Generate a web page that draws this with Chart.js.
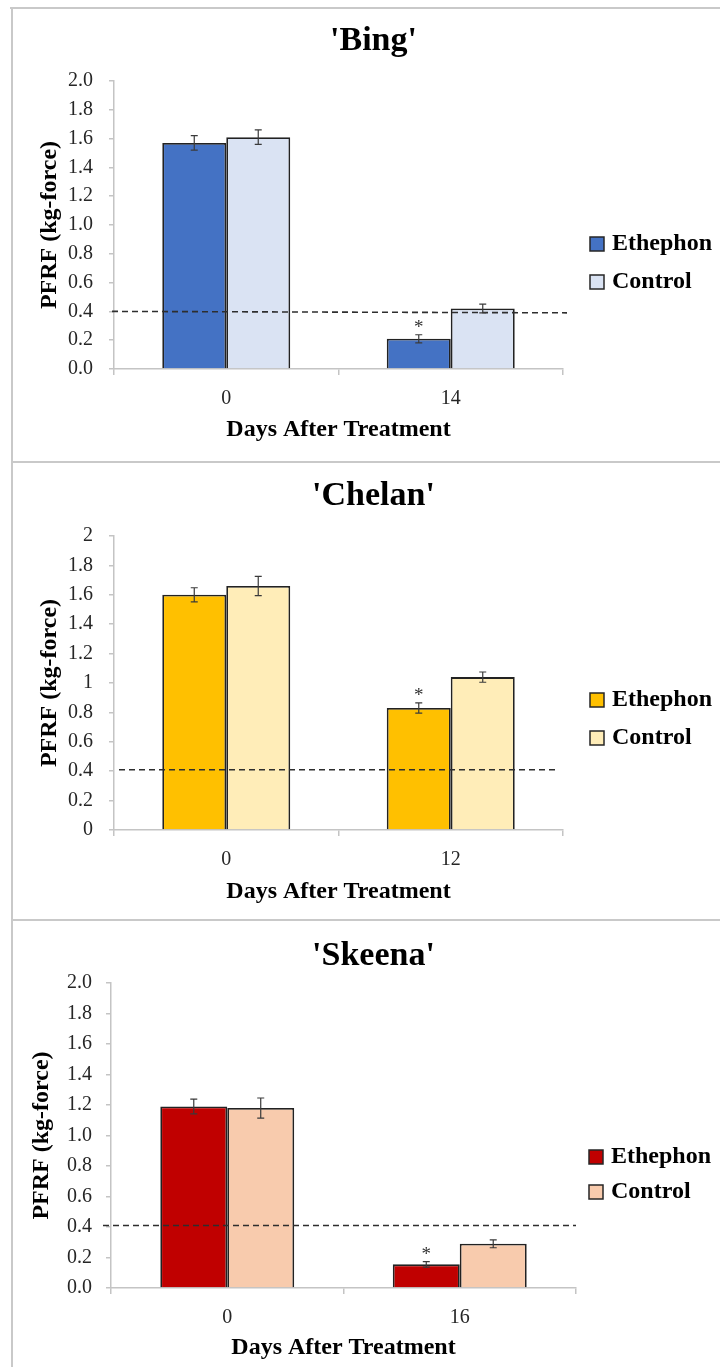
<!DOCTYPE html>
<html><head><meta charset="utf-8">
<script src="https://cdn.jsdelivr.net/npm/chart.js@4/dist/chart.umd.min.js"></script>
<style>
html,body{margin:0;padding:0;background:#fff;}
body{position:relative;width:720px;height:1367px;overflow:hidden;}
.rule{position:absolute;background:#c9c9c9;}
canvas{position:absolute;left:13px;}
</style></head><body>
<div class="rule" style="left:10px;top:7px;width:710px;height:2px"></div>
<div class="rule" style="left:11px;top:7px;width:2px;height:1360px"></div>
<div class="rule" style="left:11px;top:461px;width:709px;height:2px"></div>
<div class="rule" style="left:11px;top:919px;width:709px;height:2px"></div>
<canvas id="c1" width="707" height="452" style="top:9px"></canvas>
<canvas id="c2" width="707" height="456" style="top:463px"></canvas>
<canvas id="c3" width="707" height="446" style="top:921px"></canvas>
<script>
// ---- data ----
const seriesNames = ['Ethephon', 'Control'];
const yAxisTitle = 'PFRF (kg-force)';
const xAxisTitle = 'Days After Treatment';

const bingDays = ['0', '14'];
const bingEthephon = [1.57, 0.21];
const bingEthephonErr = [0.05, 0.028];
const bingControl = [1.61, 0.42];
const bingControlErr = [0.05, 0.03];
const bingSignificance = ['', '*'];
const bingThreshold = [0.40, 0.39];   // dashed reference line (left end, right end)

const chelanDays = ['0', '12'];
const chelanEthephon = [1.60, 0.83];
const chelanEthephonErr = [0.048, 0.035];
const chelanControl = [1.66, 1.04];
const chelanControlErr = [0.065, 0.035];
const chelanSignificance = ['', '*'];
const chelanThreshold = [0.41, 0.41];

const skeenaDays = ['0', '16'];
const skeenaEthephon = [1.19, 0.155];
const skeenaEthephonErr = [0.048, 0.018];
const skeenaControl = [1.18, 0.29];
const skeenaControlErr = [0.066, 0.026];
const skeenaSignificance = ['', '*'];
const skeenaThreshold = [0.41, 0.41];

// ---- rendering ----
const FONT = "'Liberation Serif', 'Times New Roman', serif";

const thresholdPlugin = {
  id: 'threshold',
  afterDatasetsDraw(chart, args, opts) {
    const ys = chart.scales.y, a = chart.chartArea, ctx = chart.ctx;
    const xa = a.left + opts.extLeft, xb = a.right + opts.extRight;
    ctx.save();
    ctx.strokeStyle = '#2e2e2e'; ctx.lineWidth = 1.6; ctx.setLineDash([6, 4]);
    ctx.beginPath();
    ctx.moveTo(xa, ys.getPixelForValue(opts.values[0]));
    ctx.lineTo(xb, ys.getPixelForValue(opts.values[1]));
    ctx.stroke();
    ctx.restore();
  }
};

const errorBarPlugin = {
  id: 'errorBars',
  afterDatasetsDraw(chart) {
    const ctx = chart.ctx, ys = chart.scales.y;
    chart.data.datasets.forEach((ds, di) => {
      if (!ds.errors) return;
      const meta = chart.getDatasetMeta(di);
      meta.data.forEach((bar, i) => {
        const v = ds.data[i], e = ds.errors[i];
        const yTop = ys.getPixelForValue(v + e), yBot = ys.getPixelForValue(v - e);
        ctx.save();
        ctx.strokeStyle = '#3a3a3a'; ctx.lineWidth = 1.2;
        ctx.beginPath();
        ctx.moveTo(bar.x, yTop); ctx.lineTo(bar.x, yBot);
        ctx.moveTo(bar.x - 3.5, yTop); ctx.lineTo(bar.x + 3.5, yTop);
        ctx.moveTo(bar.x - 3.5, yBot); ctx.lineTo(bar.x + 3.5, yBot);
        ctx.stroke();
        if (ds.marks && ds.marks[i]) {
          ctx.fillStyle = '#333333';
          ctx.font = '19px ' + FONT;
          ctx.textAlign = 'center'; ctx.textBaseline = 'alphabetic';
          ctx.fillText(ds.marks[i], bar.x, yTop - 2);
        }
        ctx.restore();
      });
    });
  }
};

const sideLegend = {
  id: 'sideLegend',
  afterDraw(chart, args, opts) {
    const ctx = chart.ctx;
    chart.data.datasets.forEach((ds, i) => {
      const cy = opts.y + i * opts.step;
      ctx.save();
      ctx.fillStyle = ds.backgroundColor;
      ctx.fillRect(opts.x, cy - 7, 14, 14);
      ctx.strokeStyle = '#262626'; ctx.lineWidth = 1.5;
      ctx.strokeRect(opts.x, cy - 7, 14, 14);
      ctx.fillStyle = '#000';
      ctx.font = 'bold 24px ' + FONT;
      ctx.textBaseline = 'middle'; ctx.textAlign = 'left';
      ctx.fillText(ds.label, opts.x + 22, cy);
      ctx.restore();
    });
  }
};

const AXIS_GRAY = '#c4c4c4';

function makeChart(id, c) {
  return new Chart(document.getElementById(id), {
    type: 'bar',
    data: {
      labels: c.days,
      datasets: [
        { label: seriesNames[0], data: c.eth, errors: c.ethErr, marks: c.sig,
          backgroundColor: c.col1, borderColor: '#222222', borderWidth: 1.8 },
        { label: seriesNames[1], data: c.ctl, errors: c.ctlErr,
          backgroundColor: c.col2, borderColor: '#222222', borderWidth: 1.8 }
      ]
    },
    plugins: [thresholdPlugin, errorBarPlugin, sideLegend],
    options: {
      responsive: false, animation: false, devicePixelRatio: 1,
      layout: { padding: { left: 14, right: 0, top: 0, bottom: 0 } },
      datasets: { bar: { categoryPercentage: c.catPct, barPercentage: 1 } },
      plugins: {
        legend: { display: false },
        tooltip: { enabled: false },
        title: { display: true, text: c.title, color: '#000',
          font: { family: FONT, size: 34, weight: 'bold', lineHeight: 1.2 },
          padding: { top: c.tTop, bottom: c.tBot } },
        sideLegend: { x: c.legX, y: c.legY, step: c.legStep },
        threshold: { values: c.thr, extLeft: c.extL, extRight: c.extR }
      },
      scales: {
        x: {
          type: 'category', offset: true,
          grid: { display: true, drawOnChartArea: false, drawTicks: true, tickLength: 6,
                  color: AXIS_GRAY, lineWidth: 1.5, offset: true },
          border: { display: true, color: AXIS_GRAY, width: 1.5 },
          ticks: { font: { family: FONT, size: 20 }, color: '#262626', padding: 12, maxRotation: 0 },
          title: { display: true, text: xAxisTitle, color: '#000',
                   font: { family: FONT, size: 24, weight: 'bold', lineHeight: 1.2 },
                   padding: { top: 0, bottom: c.xtPad } },
          afterFit(s) { s.height = c.xH; }
        },
        y: {
          type: 'linear', position: 'left', min: 0, max: 2,
          ticks: { stepSize: 0.2, callback: c.fmt, font: { family: FONT, size: 20 },
                   color: '#262626', padding: c.ytPad },
          grid: { display: true, drawOnChartArea: false, drawTicks: true, tickLength: 5,
                  color: AXIS_GRAY, lineWidth: 1.5 },
          border: { display: true, color: AXIS_GRAY, width: 1.5 },
          title: { display: true, text: yAxisTitle, color: '#000',
                   font: { family: FONT, size: 24, weight: 'bold', lineHeight: 1.2 },
                   padding: { top: c.yTitlePad, bottom: 0 } },
          afterFit(s) { s.width = c.yW; }
        },
        yRight: {
          type: 'linear', position: 'right', display: true,
          ticks: { display: false }, grid: { display: false }, border: { display: false },
          afterFit(s) { s.width = c.rW; }
        }
      }
    }
  });
}

const fixed1 = v => Number(v).toFixed(1);
const trimmed = v => String(+Number(v).toFixed(1));

makeChart('c1', {
  title: "'Bing'", days: bingDays,
  eth: bingEthephon, ethErr: bingEthephonErr, ctl: bingControl, ctlErr: bingControlErr,
  sig: bingSignificance, thr: bingThreshold, extL: -2, extR: 4,
  col1: '#4472C4', col2: '#DAE3F3', fmt: fixed1, catPct: 0.57,
  yW: 87, rW: 157, tTop: 12, tBot: 19.2, xH: 92, xtPad: 16.6, yTitlePad: 8.6, ytPad: 16,
  legX: 577, legY: 235, legStep: 38
});
makeChart('c2', {
  title: "'Chelan'", days: chelanDays,
  eth: chelanEthephon, ethErr: chelanEthephonErr, ctl: chelanControl, ctlErr: chelanControlErr,
  sig: chelanSignificance, thr: chelanThreshold, extL: 5, extR: -8,
  col1: '#FFC000', col2: '#FFEDB8', fmt: trimmed, catPct: 0.57,
  yW: 87, rW: 157, tTop: 13, tBot: 19.2, xH: 89, xtPad: 12.6, yTitlePad: 8.6, ytPad: 16,
  legX: 577, legY: 237, legStep: 38
});
makeChart('c3', {
  title: "'Skeena'", days: skeenaDays,
  eth: skeenaEthephon, ethErr: skeenaEthephonErr, ctl: skeenaControl, ctlErr: skeenaControlErr,
  sig: skeenaSignificance, thr: skeenaThreshold, extL: -8, extR: 0,
  col1: '#C00000', col2: '#F8CBAD', fmt: fixed1, catPct: 0.576,
  yW: 84, rW: 144, tTop: 15, tBot: 6.2, xH: 79, xtPad: 4.6, yTitlePad: 0, ytPad: 14,
  legX: 576, legY: 236, legStep: 35
});
</script>
</body></html>
